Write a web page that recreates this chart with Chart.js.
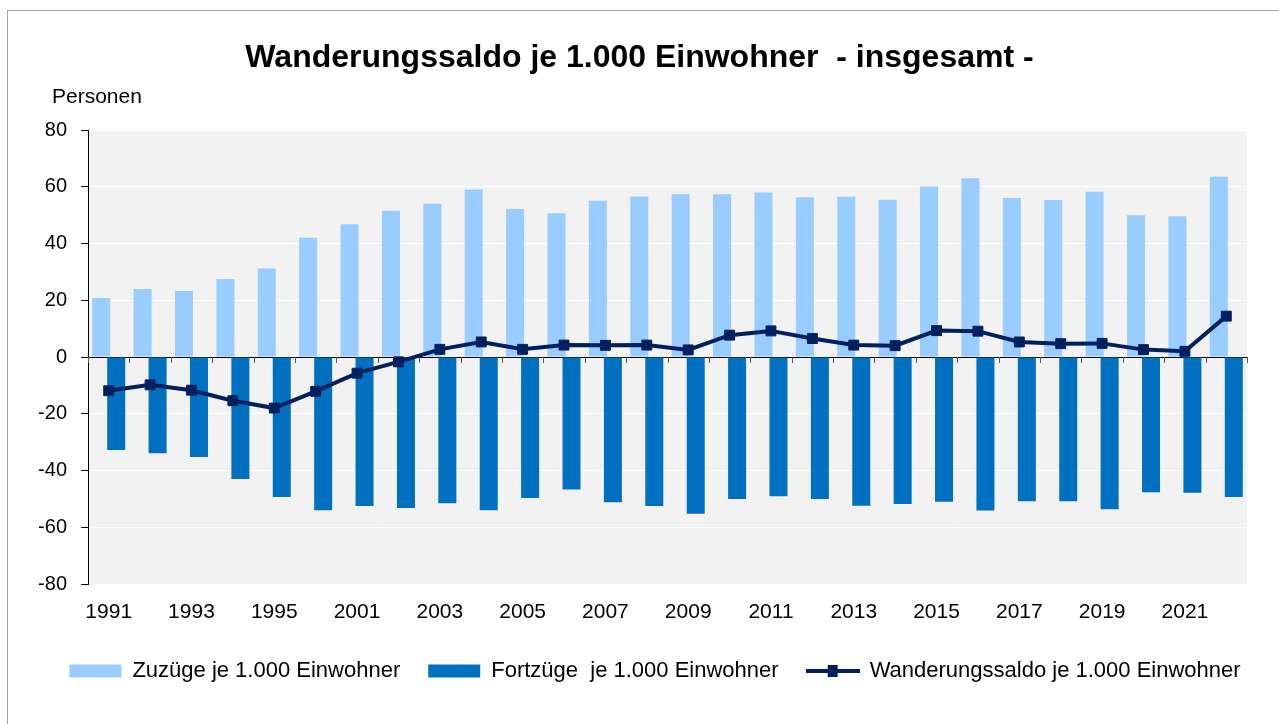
<!DOCTYPE html>
<html lang="de">
<head>
    <meta charset="UTF-8">
    <meta name="viewport" content="width=device-width, initial-scale=1.0">
    <script src="https://cdn.jsdelivr.net/npm/chart.js"></script>
    <title>Wanderungssaldo je 1.000 Einwohner</title>
    <style>
        body {
            margin: 0;
            padding: 0;
            background-color: #ffffff;
            font-family: 'Liberation Sans', Arial, sans-serif;
            color: #000;
        }

        .wrap {
            position: relative;
            width: 1279px;
            height: 724px;
            overflow: hidden;
        }

        .frame {
            position: absolute;
            left: 7px;
            top: 10px;
            right: -2px;
            bottom: -2px;
            border-top: 1px solid #a6a6a6;
            border-left: 1px solid #a6a6a6;
        }

        h1 {
            position: absolute;
            left: 0;
            right: 0;
            top: 38px;
            margin: 0;
            text-align: center;
            font-size: 32px;
            font-weight: bold;
            white-space: pre;
        }

        .unit {
            position: absolute;
            left: 52px;
            top: 84px;
            font-size: 21px;
        }

        canvas {
            position: absolute;
            left: 0;
            top: 0;
        }
    </style>
</head>
<body>

<div class="wrap">
    <div class="frame"></div>
    <canvas id="myChart" width="1279" height="724"></canvas>
    <h1>Wanderungssaldo je 1.000 Einwohner  - insgesamt -</h1>
    <div class="unit">Personen</div>
</div>

<script>
    // Jahre (1996-1999 fehlen in der Reihe)
    const years = ['1991', '1992', '1993', '1994', '1995', '2000', '2001', '2002', '2003', '2004',
        '2005', '2006', '2007', '2008', '2009', '2010', '2011', '2012', '2013', '2014',
        '2015', '2016', '2017', '2018', '2019', '2020', '2021', '2022'];

    // Zuzüge je 1.000 Einwohner
    const zuzuege = [20.8, 24.0, 23.3, 27.5, 31.2, 42.0, 46.8, 51.5, 54.0, 59.0,
        52.2, 50.7, 55.1, 56.6, 57.4, 57.4, 58.0, 56.3, 56.5, 55.4,
        60.1, 63.0, 56.0, 55.3, 58.2, 50.0, 49.6, 63.5];

    // Fortzüge je 1.000 Einwohner (negativ dargestellt)
    const fortzuege = [-32.8, -33.9, -35.2, -43.0, -49.3, -54.0, -52.5, -53.2, -51.5, -54.0,
        -49.7, -46.7, -51.2, -52.5, -55.2, -50.0, -49.1, -50.0, -52.4, -51.8,
        -51.0, -54.1, -50.8, -50.8, -53.7, -47.7, -47.8, -49.3];

    // Wanderungssaldo je 1.000 Einwohner
    const saldo = [-11.9, -9.8, -11.7, -15.4, -18.0, -12.1, -5.7, -1.7, 2.7, 5.3,
        2.7, 4.2, 4.1, 4.2, 2.5, 7.7, 9.2, 6.5, 4.2, 4.0,
        9.3, 9.1, 5.3, 4.7, 4.8, 2.6, 2.0, 14.4];

    const yTicks = { min: -80, max: 80, step: 20 };

    const fontFamily = "'Liberation Sans', Arial, sans-serif";

    // Legendensymbol fuer die Linie: Strich mit Quadrat in der Mitte
    function lineSymbol() {
        const c = document.createElement('canvas');
        c.width = 54;
        c.height = 14;
        const g = c.getContext('2d');
        g.strokeStyle = '#002060';
        g.lineWidth = 4;
        g.beginPath();
        g.moveTo(0, 7);
        g.lineTo(54, 7);
        g.stroke();
        g.fillStyle = '#002060';
        g.fillRect(22, 1, 10, 12);
        return c;
    }

    // grauer Hintergrund der Zeichenflaeche
    const plotBackground = {
        id: 'plotBackground',
        beforeDraw(chart) {
            const { ctx, chartArea: a } = chart;
            ctx.save();
            ctx.fillStyle = '#f2f2f2';
            ctx.fillRect(a.left, a.top, a.right - a.left, a.bottom - a.top);
            ctx.restore();
        }
    };

    // Teilstriche der Rubrikenachse auf der Nulllinie
    const zeroAxisTicks = {
        id: 'zeroAxisTicks',
        beforeDatasetsDraw(chart) {
            const { ctx } = chart;
            const x = chart.scales.x;
            const y = chart.scales.y;
            const y0 = y.getPixelForValue(0);
            const n = chart.data.labels.length;
            const half = (x.getPixelForValue(1) - x.getPixelForValue(0)) / 2;
            ctx.save();
            ctx.strokeStyle = '#595959';
            ctx.lineWidth = 1;
            ctx.beginPath();
            for (let i = 0; i <= n; i++) {
                const px = Math.round(x.getPixelForValue(Math.min(i, n - 1)) + (i === n ? half : -half)) + 0.5;
                ctx.moveTo(px, y0);
                ctx.lineTo(px, y0 + 6);
            }
            ctx.stroke();
            ctx.restore();
        }
    };

    const chartData = {
        labels: years,
        datasets: [
            {
                type: 'bar',
                label: 'Zuzüge je 1.000 Einwohner',
                data: zuzuege,
                backgroundColor: '#99ccff',
                borderWidth: 0,
                pointStyle: 'rect',
                order: 1
            },
            {
                type: 'bar',
                label: 'Fortzüge  je 1.000 Einwohner',
                data: fortzuege,
                backgroundColor: '#0070c0',
                borderWidth: 0,
                pointStyle: 'rect',
                order: 1
            },
            {
                type: 'line',
                label: 'Wanderungssaldo je 1.000 Einwohner',
                data: saldo,
                borderColor: '#002060',
                backgroundColor: '#002060',
                borderWidth: 4,
                pointStyle: 'rect',
                pointRadius: 7,
                pointBorderWidth: 1,
                pointBackgroundColor: '#002060',
                pointBorderColor: '#002060',
                tension: 0,
                order: 0
            }
        ]
    };

    const chartConfig = {
        type: 'bar',
        data: chartData,
        options: {
            responsive: false,
            animation: false,
            layout: {
                padding: { top: 130, left: 31, right: 0, bottom: 32 }
            },
            datasets: {
                bar: {
                    categoryPercentage: 0.725,
                    barPercentage: 1.2
                }
            },
            scales: {
                x: {
                    grid: { display: false, drawTicks: false },
                    border: { display: false },
                    ticks: {
                        autoSkip: false,
                        maxRotation: 0,
                        padding: 16,
                        color: '#000',
                        font: { family: fontFamily, size: 21 },
                        callback: function (value, index) {
                            return index % 2 === 0 ? this.getLabelForValue(value) : '';
                        }
                    },
                    afterFit: s => { s.height = 48; }
                },
                y: {
                    min: yTicks.min,
                    max: yTicks.max,
                    ticks: {
                        stepSize: yTicks.step,
                        padding: 14,
                        color: '#000',
                        font: { family: fontFamily, size: 20 }
                    },
                    grid: {
                        color: ctx => (ctx.tick && ctx.tick.value === 0 ? '#000000' : '#ffffff'),
                        lineWidth: 1,
                        tickColor: '#000000',
                        tickLength: 7
                    },
                    border: { display: true, color: '#000000', width: 1 },
                    afterFit: s => { s.width = 57; }
                },
                // leerer Rand rechts der Zeichenflaeche
                yRight: {
                    position: 'right',
                    grid: { display: false, drawTicks: false },
                    border: { display: false },
                    ticks: { display: false },
                    afterFit: s => { s.width = 32; }
                }
            },
            plugins: {
                title: { display: false },
                tooltip: { enabled: false },
                legend: {
                    position: 'bottom',
                    labels: {
                        usePointStyle: true,
                        pointStyleWidth: 52,
                        boxHeight: 13,
                        padding: 28,
                        color: '#000',
                        font: { family: fontFamily, size: 22 },
                        sort: (a, b) => a.datasetIndex - b.datasetIndex,
                        generateLabels: chart => {
                            const items = Chart.defaults.plugins.legend.labels.generateLabels(chart);
                            items.forEach(item => {
                                if (chart.data.datasets[item.datasetIndex].type === 'line') {
                                    item.pointStyle = lineSymbol();
                                } else {
                                    item.pointStyle = 'rect';
                                    item.lineWidth = 0;
                                }
                            });
                            return items;
                        }
                    }
                }
            }
        },
        plugins: [plotBackground, zeroAxisTicks]
    };

    var myChart = new Chart(
        document.getElementById('myChart'),
        chartConfig
    );
</script>

</body>
</html>
